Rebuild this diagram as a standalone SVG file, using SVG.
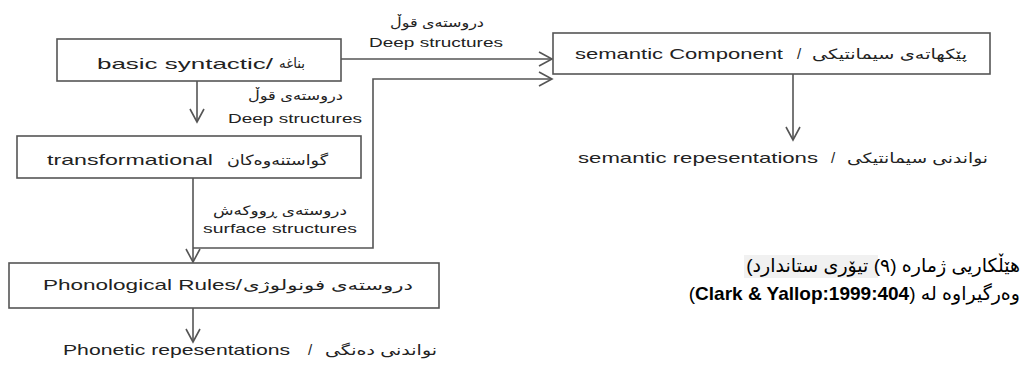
<svg xmlns="http://www.w3.org/2000/svg" width="1027" height="367" viewBox="0 0 1027 367">
<style>
.box{fill:#fff;stroke:#555;stroke-width:1.6}
.ln{fill:none;stroke:#555;stroke-width:1.6}
text{font-family:"Liberation Sans","DejaVu Sans",sans-serif;fill:#222}
.en{font-size:15px}
.ku{font-size:14px}
.sm{font-size:13px}
.cap{font-size:19px;fill:#000}
</style>
<defs>
<marker id="ar" markerUnits="userSpaceOnUse" markerWidth="16" markerHeight="16" refX="14" refY="8" orient="auto">
<path d="M1,1 L14,8 L1,15" fill="none" stroke="#555" stroke-width="1.6"/>
</marker>
</defs>
<rect width="1027" height="367" fill="#fff"/>
<g id="connectors">
<line class="ln" x1="341" y1="59" x2="552" y2="59" marker-end="url(#ar)"/>
<polyline class="ln" points="193,248 373,248 373,79 552,79" marker-end="url(#ar)"/>
<line class="ln" x1="193" y1="178" x2="193" y2="262" marker-end="url(#ar)"/>
<line class="ln" x1="197" y1="81" x2="197" y2="122" marker-end="url(#ar)"/>
<line class="ln" x1="793" y1="74" x2="793" y2="140" marker-end="url(#ar)"/>
<line class="ln" x1="193" y1="308" x2="193" y2="342" marker-end="url(#ar)"/>
</g>
<g id="basic">
<rect class="box" x="57" y="39" width="284" height="42"/>
<text class="en" x="97" y="69" textLength="176" lengthAdjust="spacingAndGlyphs">basic syntactic/</text>
<text class="ku" x="279" y="68" textLength="26" lengthAdjust="spacingAndGlyphs">بناغە</text>
</g>
<g id="semantic">
<rect class="box" x="553" y="33" width="437" height="41"/>
<text class="en" x="575" y="59" textLength="208" lengthAdjust="spacingAndGlyphs">semantic Component</text>
<text class="en" x="797" y="59">/</text>
<text class="ku" x="812" y="59" textLength="155" lengthAdjust="spacingAndGlyphs">پێکهاتەی سیمانتیکی</text>
</g>
<g id="transformational">
<rect class="box" x="17" y="136" width="344" height="42"/>
<text class="en" x="47" y="165" textLength="166" lengthAdjust="spacingAndGlyphs">transformational</text>
<text class="ku" x="227" y="165" textLength="101" lengthAdjust="spacingAndGlyphs">گواستنەوەکان</text>
</g>
<g id="phonological">
<rect class="box" x="9" y="263" width="430" height="45"/>
<text class="en" x="43" y="290" textLength="199" lengthAdjust="spacingAndGlyphs">Phonological  Rules/</text>
<text class="ku" x="243" y="290" textLength="170" lengthAdjust="spacingAndGlyphs">دروستەی فونولوژی</text>
</g>
<g id="deep1">
<text class="sm" x="390" y="27" textLength="94" lengthAdjust="spacingAndGlyphs">دروستەی قوڵ</text>
<text class="sm" x="369" y="47" textLength="134" lengthAdjust="spacingAndGlyphs">Deep structures</text>
</g>
<g id="deep2">
<text class="sm" x="248" y="100" textLength="95" lengthAdjust="spacingAndGlyphs">دروستەی قوڵ</text>
<text class="sm" x="228" y="123" textLength="134" lengthAdjust="spacingAndGlyphs">Deep structures</text>
</g>
<g id="surface">
<text class="sm" x="213" y="215" textLength="134" lengthAdjust="spacingAndGlyphs">دروستەی ڕووکەش</text>
<text class="sm" x="203" y="233" textLength="154" lengthAdjust="spacingAndGlyphs">surface structures</text>
</g>
<g id="semrep">
<text class="en" x="578" y="163" textLength="240" lengthAdjust="spacingAndGlyphs">semantic repesentations</text>
<text class="en" x="831" y="163">/</text>
<text class="ku" x="847" y="163" textLength="141" lengthAdjust="spacingAndGlyphs">نواندنی سیمانتیکی</text>
</g>
<g id="phonrep">
<text class="en" x="63" y="355" textLength="227" lengthAdjust="spacingAndGlyphs">Phonetic repesentations</text>
<text class="en" x="308" y="355">/</text>
<text class="ku" x="325" y="355" textLength="112" lengthAdjust="spacingAndGlyphs">نواندنی دەنگی</text>
</g>
<g id="caption">
<rect x="744" y="255" width="134" height="23" fill="#f1f1f1"/>
<text class="cap" x="1020" y="272" direction="rtl" text-anchor="start">هێڵکاریی ژمارە (٩)  تیۆری ستاندارد)</text>
<text class="cap" x="1020" y="300" direction="rtl" text-anchor="start">وەرگیراوە لە (<tspan font-weight="bold">Clark &amp; Yallop:1999:404</tspan>)</text>
</g>
</svg>
